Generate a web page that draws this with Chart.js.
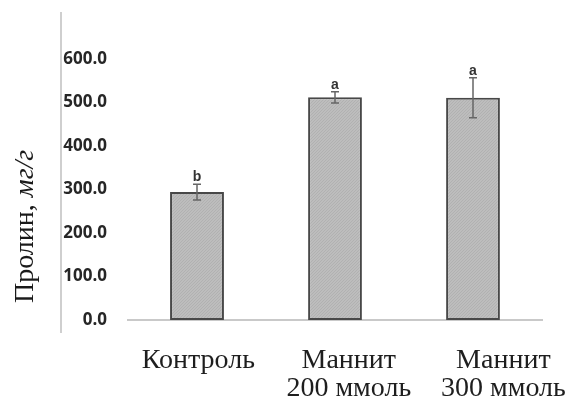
<!DOCTYPE html>
<html>
<head>
<meta charset="utf-8">
<script src="https://cdn.jsdelivr.net/npm/chart.js@4/dist/chart.umd.min.js"></script>
<style>
  html, body { margin: 0; padding: 0; background: #ffffff; }
  #wrap { width: 588px; height: 409px; position: relative; }
</style>
</head>
<body>
<div id="wrap"><canvas id="c" width="588" height="409"></canvas></div>
<script>
// Proline content, mg/g, in three growing conditions
const categories = ['Контроль', 'Маннит 200 ммоль', 'Маннит 300 ммоль'];
const categoryLines = [['Контроль'], ['Маннит', '200 ммоль'], ['Маннит', '300 ммоль']];
const prolineValues = [294, 512, 511];
const prolineErrors = [18, 13, 46];
const groupLetters = ['b', 'a', 'a'];
const yTickValues = [0, 100, 200, 300, 400, 500, 600];

// horizontal shift of each category caption, in category units
const captionShift = [0.01, 0.10, 0.22];

const yTitleMain = 'Пролин, ';
const yTitleUnit = 'мг/г';

// fine diagonal hatch used as the bar fill
function hatchFill() {
  const p = document.createElement('canvas');
  p.width = 3; p.height = 3;
  const g = p.getContext('2d');
  g.fillStyle = '#bdbdbd';
  g.fillRect(0, 0, 3, 3);
  g.fillStyle = '#b1b1b1';
  g.fillRect(2, 0, 1, 1);
  g.fillRect(1, 1, 1, 1);
  g.fillRect(0, 2, 1, 1);
  return document.getElementById('c').getContext('2d').createPattern(p, 'repeat');
}

// error bars and significance letters above each bar
const errorBars = {
  id: 'errorBars',
  afterDatasetsDraw(chart) {
    const ctx = chart.ctx;
    const y = chart.scales.y;
    const meta = chart.getDatasetMeta(0);
    ctx.save();
    meta.data.forEach((bar, i) => {
      const x = bar.x;
      const top = y.getPixelForValue(prolineValues[i] + prolineErrors[i]);
      const bot = y.getPixelForValue(prolineValues[i] - prolineErrors[i]);
      ctx.strokeStyle = '#666666';
      ctx.lineWidth = 1.5;
      ctx.beginPath();
      ctx.moveTo(x, top); ctx.lineTo(x, bot);
      ctx.moveTo(x - 4, top); ctx.lineTo(x + 4, top);
      ctx.moveTo(x - 4, bot); ctx.lineTo(x + 4, bot);
      ctx.stroke();
      ctx.fillStyle = '#333333';
      ctx.font = 'bold 14px "Liberation Sans", Arial, sans-serif';
      ctx.textAlign = 'center';
      ctx.textBaseline = 'alphabetic';
      ctx.fillText(groupLetters[i], x, top - 3);
    });
    ctx.restore();
  }
};

// vertical rule left of the tick labels and the rotated axis title
const axisDecor = {
  id: 'axisDecor',
  afterDraw(chart) {
    const ctx = chart.ctx;
    const area = chart.chartArea;
    ctx.save();
    ctx.strokeStyle = '#cfcfcf';
    ctx.lineWidth = 2;
    ctx.beginPath();
    ctx.moveTo(61, area.top - 47);
    ctx.lineTo(61, area.bottom + 13);
    ctx.stroke();

    ctx.translate(33, area.bottom - 17);
    ctx.rotate(-Math.PI / 2);
    ctx.fillStyle = '#1a1a1a';
    ctx.textBaseline = 'alphabetic';
    ctx.textAlign = 'left';
    ctx.font = '28px "Liberation Serif", "Times New Roman", serif';
    ctx.fillText(yTitleMain, 0, 0);
    const w = ctx.measureText(yTitleMain).width;
    ctx.font = 'italic 28px "Liberation Serif", "Times New Roman", serif';
    ctx.fillText(yTitleUnit, w, 0);
    ctx.restore();
  }
};

new Chart(document.getElementById('c'), {
  type: 'bar',
  data: {
    labels: categories,
    datasets: [{
      data: prolineValues,
      backgroundColor: hatchFill(),
      borderColor: '#484848',
      borderWidth: 2,
      borderSkipped: false,
      categoryPercentage: 1,
      barPercentage: 0.39
    }]
  },
  options: {
    responsive: false,
    animation: false,
    devicePixelRatio: 1,
    layout: { padding: { top: 59, right: 46, left: 0, bottom: 0 } },
    plugins: { legend: { display: false }, tooltip: { enabled: false } },
    scales: {
      x: { display: false },
      captions: {
        type: 'linear',
        position: 'bottom',
        offset: false,
        min: -0.5,
        max: 2.5,
        grid: { display: false, drawTicks: false, offset: false },
        border: { display: true, color: '#c9c9c9', width: 2 },
        afterBuildTicks(s) {
          s.ticks = captionShift.map((d, i) => ({ value: i + d }));
        },
        ticks: {
          autoSkip: false,
          maxRotation: 0,
          padding: 27,
          color: '#1e1e1e',
          font: { family: '"Liberation Serif", "Times New Roman", serif', size: 28, lineHeight: 0.98 },
          callback: (v, i) => categoryLines[i]
        },
        afterFit(s) { s.height = 89; s.paddingLeft = 0; s.paddingRight = 0; }
      },
      y: {
        min: 0,
        max: 600,
        grid: { display: false, drawTicks: false },
        border: { display: false },
        afterBuildTicks(s) { s.ticks = yTickValues.map(v => ({ value: v })); },
        ticks: {
          padding: 21,
          color: '#262626',
          font: { family: '"Open Sans", sans-serif', size: 17, weight: '700' },
          callback: v => Number(v).toFixed(1)
        },
        afterFit(s) { s.width = 128; s.paddingTop = 0; s.paddingBottom = 0; }
      }
    }
  },
  plugins: [errorBars, axisDecor]
});
</script>
</body>
</html>
